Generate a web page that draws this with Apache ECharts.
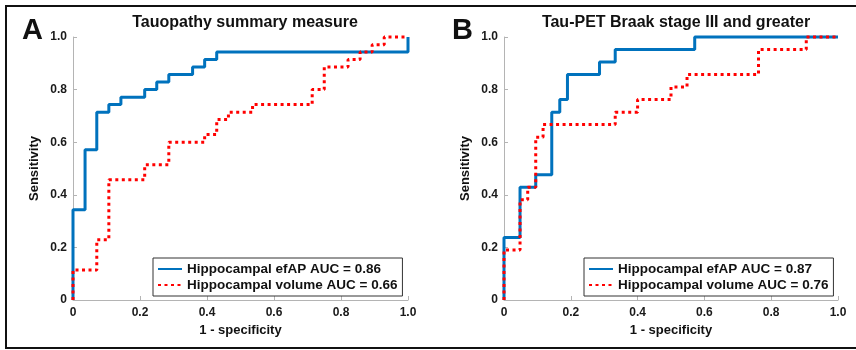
<!DOCTYPE html>
<html>
<head>
<meta charset="utf-8">
<script src="https://cdn.jsdelivr.net/npm/echarts@6/dist/echarts.min.js"></script>
<style>
  html, body { margin: 0; padding: 0; background: #fff; }
  #main { width: 856px; height: 350px; }
</style>
</head>
<body>
<div id="main"></div>
<script>
// panel titles / names
const panelTitles = ['Tauopathy summary measure', 'Tau-PET Braak stage III and greater'];
const panelLetters = ['A', 'B'];
const namesA = ['Hippocampal efAP AUC = 0.86', 'Hippocampal volume AUC = 0.66'];
const namesB = ['Hippocampal efAP AUC = 0.87', 'Hippocampal volume AUC = 0.76'];

// ROC corner points (1 - specificity, sensitivity)
const efapA_x = [0, 0, 0.036, 0.071, 0.107, 0.143, 0.214, 0.25, 0.286, 0.357, 0.393, 0.429, 1.0, 1.0];
const efapA_y = [0, 0.343, 0.571, 0.714, 0.743, 0.771, 0.8, 0.829, 0.857, 0.886, 0.914, 0.943, 0.943, 1.0];
const volA_x = [0, 0, 0.071, 0.107, 0.214, 0.286, 0.393, 0.429, 0.464, 0.536, 0.714, 0.75, 0.821, 0.857, 0.893, 0.929, 1.0];
const volA_y = [0, 0.114, 0.229, 0.457, 0.514, 0.6, 0.629, 0.686, 0.714, 0.743, 0.8, 0.886, 0.914, 0.943, 0.971, 1.0, 1.0];

const efapB_x = [0, 0, 0.048, 0.095, 0.143, 0.167, 0.19, 0.286, 0.333, 0.571, 1.0];
const efapB_y = [0, 0.238, 0.429, 0.476, 0.714, 0.762, 0.857, 0.905, 0.952, 1.0, 1.0];
const volB_x = [0, 0, 0.048, 0.071, 0.095, 0.117, 0.333, 0.4, 0.5, 0.548, 0.762, 0.905, 1.0];
const volB_y = [0, 0.19, 0.381, 0.429, 0.619, 0.667, 0.714, 0.762, 0.81, 0.857, 0.952, 1.0, 1.0];

const FONT = '"Liberation Sans", Arial, Helvetica, sans-serif';
const pair = (xs, ys) => xs.map((x, i) => [x, ys[i]]);
const fmt = v => (v === 0 ? '0' : v.toFixed(1));

var chartDom = document.getElementById('main');
var myChart = echarts.init(chartDom, null, { renderer: 'canvas' });

const grids = [
  { left: 73, top: 37, width: 335, height: 263 },
  { left: 504, top: 37, width: 334, height: 263 }
];

function axis(i, isX) {
  return {
    type: 'value',
    gridIndex: i,
    min: 0,
    max: 1,
    interval: 0.2,
    name: isX ? '1 - specificity' : 'Sensitivity',
    nameLocation: 'middle',
    nameGap: isX ? 20 : 32,
    nameTextStyle: { fontFamily: FONT, fontWeight: 'bold', fontSize: 13, color: '#111' },
    axisLine: { show: true, lineStyle: { color: '#b4b4b4', width: 1 } },
    axisTick: { show: true, inside: true, length: 4, lineStyle: { color: '#b4b4b4' } },
    axisLabel: {
      formatter: fmt,
      fontFamily: FONT, fontWeight: 'bold', fontSize: 12, color: '#1a1a1a',
      margin: isX ? 7 : 6, showMinLabel: true, showMaxLabel: true
    },
    splitLine: { show: false }
  };
}

function roc(name, i, data, isVol) {
  return {
    name: name,
    type: 'line',
    xAxisIndex: i,
    yAxisIndex: i,
    step: 'end',
    symbol: 'none',
    clip: false,
    z: isVol ? 3 : 2,
    data: data,
    lineStyle: isVol
      ? { color: '#ff0000', width: 3, type: [3, 3.5], cap: 'butt' }
      : { color: '#0072bd', width: 3 },
    itemStyle: { color: isVol ? '#ff0000' : '#0072bd' }
  };
}

function legend(i, names) {
  return {
    orient: 'vertical',
    left: grids[i].left + 80,
    top: 258,
    data: names,
    itemWidth: 24,
    itemHeight: 12,
    itemGap: 2,
    padding: [4, 5, 4, 4],
    borderColor: '#333',
    borderWidth: 1,
    backgroundColor: '#fff',
    itemStyle: { opacity: 0 },
    textStyle: { fontFamily: FONT, fontWeight: 'bold', fontSize: 13.5, color: '#111' },
    selectedMode: false
  };
}

const titleStyle = { fontFamily: FONT, fontWeight: 'bold', fontSize: 16, color: '#111' };
const letterStyle = { fontFamily: FONT, fontWeight: 'bold', fontSize: 29, color: '#111' };

var option = {
  backgroundColor: '#fff',
  animation: false,
  title: [
    { text: panelTitles[0], left: 240, top: 10, textAlign: 'center', textStyle: titleStyle },
    { text: panelTitles[1], left: 671, top: 10, textAlign: 'center', textStyle: titleStyle },
    { text: panelLetters[0], left: 17, top: 11, textStyle: letterStyle },
    { text: panelLetters[1], left: 447, top: 11, textStyle: letterStyle }
  ],
  grid: grids,
  xAxis: [axis(0, true), axis(1, true)],
  yAxis: [axis(0, false), axis(1, false)],
  legend: [legend(0, namesA), legend(1, namesB)],
  series: [
    roc(namesA[0], 0, pair(efapA_x, efapA_y), false),
    roc(namesA[1], 0, pair(volA_x, volA_y), true),
    roc(namesB[0], 1, pair(efapB_x, efapB_y), false),
    roc(namesB[1], 1, pair(volB_x, volB_y), true)
  ],
  graphic: [
    { type: 'rect', shape: { x: 6, y: 6, width: 900, height: 342 },
      style: { fill: 'none', stroke: '#111', lineWidth: 2 }, silent: true }
  ]
};

option && myChart.setOption(option);
</script>
</body>
</html>
